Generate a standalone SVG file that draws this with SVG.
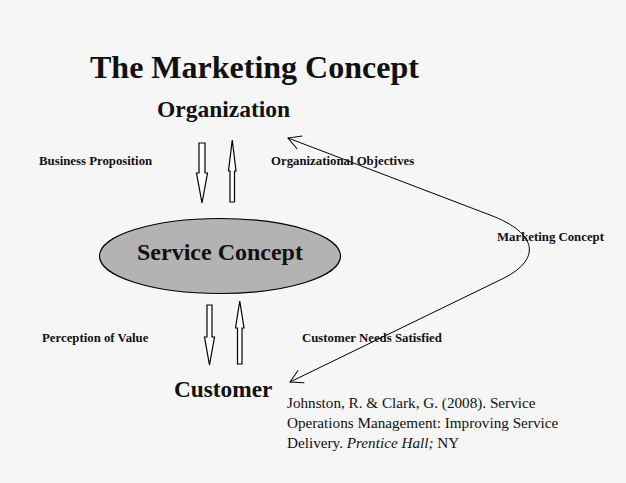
<svg xmlns="http://www.w3.org/2000/svg" width="626" height="483" viewBox="0 0 626 483">
<style>
  text { font-family: "Liberation Serif", "Times New Roman", serif; fill: #111; }
  .b { font-weight: bold; }
  .lbl { font-weight: bold; font-size: 12.8px; }
  .big { font-weight: bold; font-size: 24px; }
  .cit { font-size: 15.2px; }
  .blk { fill: #fff; stroke: #000; stroke-width: 1.2; }
  .conn { fill: none; stroke: #000; stroke-width: 1; }
</style>
<defs>
  <marker id="vhead" viewBox="-15 -8 17 16" refX="0" refY="0" markerWidth="17" markerHeight="16" markerUnits="userSpaceOnUse" orient="auto-start-reverse">
    <path d="M-12.5,-7 L0,0 L-12.5,7" fill="none" stroke="#000" stroke-width="1"/>
  </marker>
</defs>
<rect width="626" height="483" fill="#f6f6f6"/>

<g id="title">
  <text x="90" y="78" class="b" font-size="32">The Marketing Concept</text>
</g>

<g id="organization">
  <text x="157" y="117" class="b" font-size="23.5">Organization</text>
</g>

<g id="service-concept">
  <ellipse cx="220" cy="256" rx="120.5" ry="37.5" fill="#b3b3b3" stroke="#000" stroke-width="1.2"/>
  <text x="137" y="260" class="big">Service Concept</text>
</g>

<g id="customer">
  <text x="174" y="397" class="b" font-size="23.3">Customer</text>
</g>

<g id="connectors">
  <polygon class="blk" points="199,143 205,143 205,173 207.5,173 202,203 196.5,173 199,173"/>
  <polygon class="blk" points="230,202 234.5,202 234.5,171 236,171 232.25,140 228.5,171 230,171"/>
  <polygon class="blk" points="207,305 212,305 212,337 214.5,337 209.5,365 204.5,337 207,337"/>
  <polygon class="blk" points="237.5,364 242,364 242,328 244,328 239.75,301 235.5,328 237.5,328"/>
  <path class="conn" d="M288,138 L490,215 C538,233 543,260 500,280 L290,382" marker-start="url(#vhead)" marker-end="url(#vhead)"/>
</g>

<g id="labels">
  <text x="39" y="165" class="lbl">Business Proposition</text>
  <text x="271" y="165" class="lbl">Organizational Objectives</text>
  <text x="497" y="241" class="lbl">Marketing Concept</text>
  <text x="42" y="342" class="lbl">Perception of Value</text>
  <text x="302" y="342" class="lbl">Customer Needs Satisfied</text>
</g>

<g id="citation">
  <text x="287" y="408" class="cit">Johnston, R. &amp; Clark, G. (2008). Service</text>
  <text x="287" y="428" class="cit">Operations Management: Improving Service</text>
  <text x="287" y="448" class="cit">Delivery. <tspan font-style="italic">Prentice Hall;</tspan> NY</text>
</g>
</svg>
